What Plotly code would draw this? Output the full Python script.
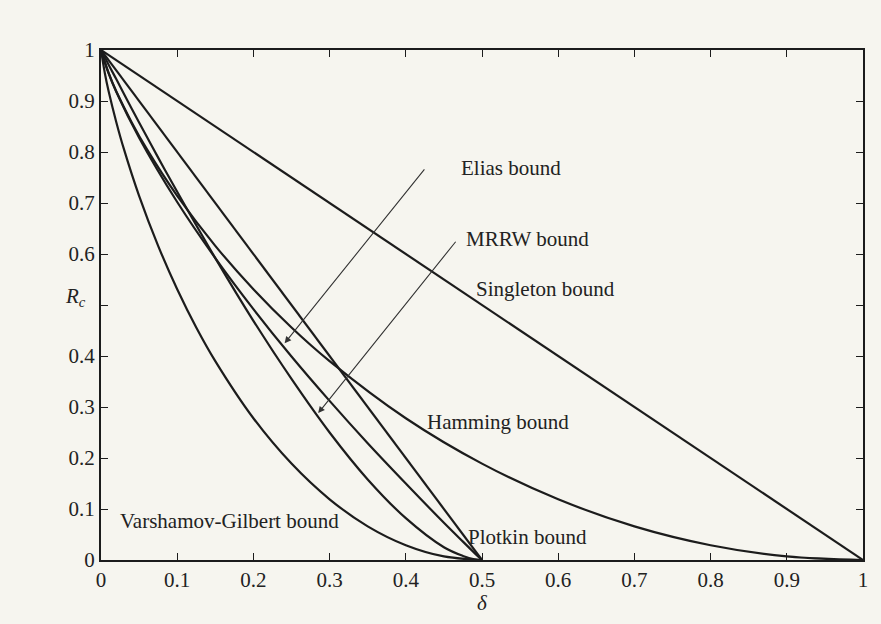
import plotly.graph_objects as go

# ---- data ----
tick_vals = [0, 0.1, 0.2, 0.3, 0.4, 0.5, 0.6, 0.7, 0.8, 0.9, 1]
x_tick_text = ["0", "0.1", "0.2", "0.3", "0.4", "0.5", "0.6", "0.7", "0.8", "0.9", "1"]
y_tick_text = ["0", "0.1", "0.2", "0.3", "0.4", "", "0.6", "0.7", "0.8", "0.9", "1"]

singleton_d = [0.0, 1.0]
singleton_r = [1.0, 0.0]

plotkin_d = [0.0, 0.5]
plotkin_r = [1.0, 0.0]

hamming_d = [0.0, 0.01, 0.02, 0.04, 0.06, 0.1, 0.15, 0.2, 0.25, 0.3, 0.4, 0.5, 0.6, 0.7, 0.8, 0.9, 1.0]
hamming_r = [1.0, 0.955, 0.919, 0.859, 0.806, 0.714, 0.616, 0.531, 0.456, 0.390, 0.278, 0.189, 0.119, 0.066, 0.029, 0.007, 0.0]

elias_d = [0.0, 0.01, 0.02, 0.05, 0.1, 0.15, 0.2, 0.25, 0.3, 0.35, 0.4, 0.45, 0.475, 0.49, 0.5]
elias_r = [1.0, 0.954, 0.918, 0.828, 0.702, 0.592, 0.492, 0.399, 0.312, 0.229, 0.150, 0.073, 0.036, 0.014, 0.0]

mrrw_d = [0.0, 0.001, 0.0025, 0.005, 0.01, 0.02, 0.035, 0.05, 0.075, 0.1, 0.15, 0.2, 0.25, 0.3, 0.35, 0.4, 0.45, 0.475, 0.49, 0.5]
mrrw_r = [1.0, 0.997, 0.993, 0.986, 0.971, 0.943, 0.900, 0.858, 0.789, 0.722, 0.592, 0.469, 0.355, 0.250, 0.158, 0.082, 0.025, 0.008, 0.0015, 0.0]

gv_d = [0.0, 0.005, 0.01, 0.02, 0.03, 0.05, 0.075, 0.1, 0.125, 0.15, 0.2, 0.25, 0.3, 0.35, 0.4, 0.45, 0.5]
gv_r = [1.0, 0.955, 0.919, 0.859, 0.806, 0.714, 0.616, 0.531, 0.456, 0.390, 0.278, 0.189, 0.119, 0.066, 0.029, 0.007, 0.0]

labels = ["Elias bound", "MRRW bound", "Singleton bound", "Hamming bound", "Plotkin bound", "Varshamov-Gilbert bound"]
label_x = [0.538, 0.560, 0.583, 0.521, 0.560, 0.168]
label_y = [0.769, 0.629, 0.531, 0.271, 0.045, 0.076]

arrow_tail_x = [0.426, 0.467]
arrow_tail_y = [0.769, 0.627]
arrow_head_x = [0.241, 0.285]
arrow_head_y = [0.425, 0.288]

# ---- figure ----
BG = "#f6f5ef"
INK = "#1c1c1c"
FONT = "Liberation Serif"

fig = go.Figure()
curves = [
    (singleton_d, singleton_r, "linear"),
    (plotkin_d, plotkin_r, "linear"),
    (hamming_d, hamming_r, "spline"),
    (elias_d, elias_r, "spline"),
    (mrrw_d, mrrw_r, "spline"),
    (gv_d, gv_r, "spline"),
]
for xs, ys, shape in curves:
    fig.add_trace(go.Scatter(x=xs, y=ys, mode="lines",
                             line=dict(color=INK, width=2.2, shape=shape),
                             showlegend=False, hoverinfo="skip"))

for t, x, y in zip(labels, label_x, label_y):
    fig.add_annotation(x=x, y=y, xref="x", yref="y", text=t, showarrow=False,
                       font=dict(family=FONT, size=21, color="#222"))

for tx, ty, hx, hy in zip(arrow_tail_x, arrow_tail_y, arrow_head_x, arrow_head_y):
    fig.add_annotation(x=hx, y=hy, ax=tx, ay=ty, xref="x", yref="y",
                       axref="x", ayref="y", text="", showarrow=True,
                       arrowhead=2, arrowsize=1.2, arrowwidth=1.1, arrowcolor="#333")

fig.add_annotation(x=-0.017, y=0.516, xref="paper", yref="y",
                   text="<i>R</i><sub><i>c</i></sub>", showarrow=False,
                   xanchor="right", yanchor="middle",
                   font=dict(family=FONT, size=21, color="#222"))
fig.add_annotation(x=0.5, y=-0.084, xref="x", yref="paper",
                   text="<i>δ</i>", showarrow=False, yanchor="middle",
                   font=dict(family=FONT, size=21, color="#222"))

axis_common = dict(range=[0, 1], tickvals=tick_vals,
                   showline=True, linewidth=2, linecolor=INK, mirror="ticks",
                   ticks="inside", ticklen=7, tickwidth=1.3, tickcolor=INK,
                   showgrid=False, zeroline=False,
                   tickfont=dict(family=FONT, size=21, color="#222"))

fig.update_xaxes(ticktext=x_tick_text, **axis_common)
fig.update_yaxes(ticktext=y_tick_text, **axis_common)

fig.update_layout(width=881, height=624,
                  margin=dict(l=101, r=18, t=50, b=64),
                  paper_bgcolor=BG, plot_bgcolor=BG,
                  font=dict(family=FONT, color="#222"))

fig.write_html("out.html", config={"displayModeBar": False},
               post_script="document.body.style.margin='0';document.body.style.background='" + BG + "';")
